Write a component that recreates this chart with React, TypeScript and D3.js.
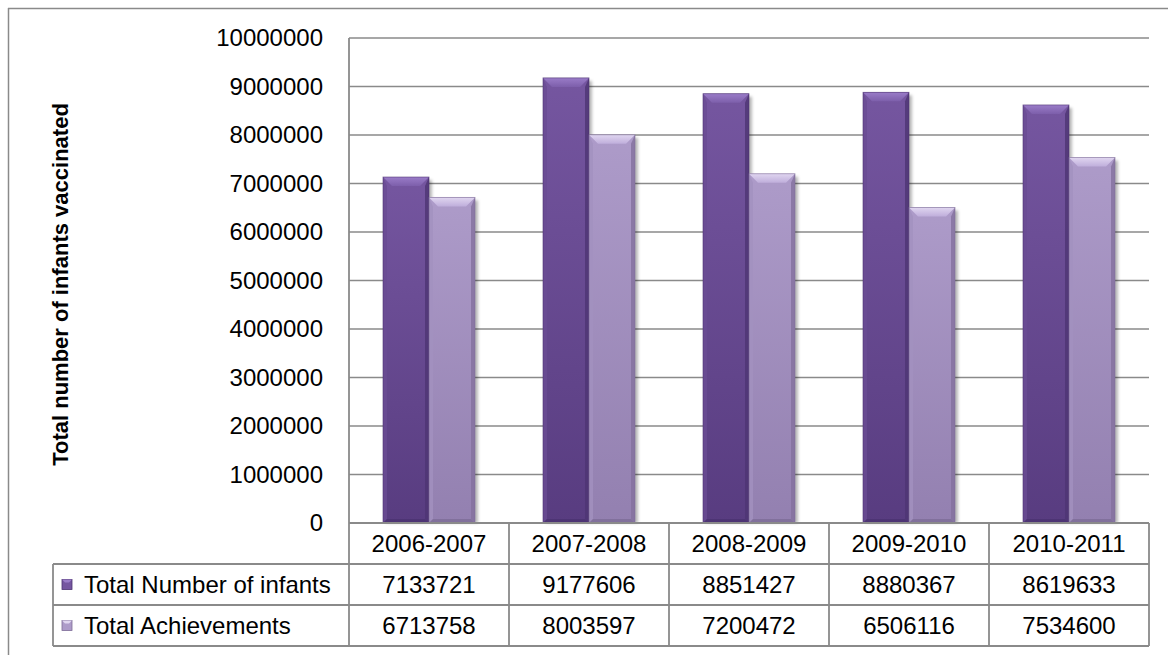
import React from "react";
import * as d3 from "d3";

// Fiscal years shown along the category axis / table header
const categories = ["2006-2007", "2007-2008", "2008-2009", "2009-2010", "2010-2011"];
const seriesNames = ["Total Number of infants", "Total Achievements"];
const infants = [7133721, 9177606, 8851427, 8880367, 8619633];
const achievements = [6713758, 8003597, 7200472, 6506116, 7534600];
const yTicks = [0, 1000000, 2000000, 3000000, 4000000, 5000000, 6000000, 7000000, 8000000, 9000000, 10000000];
const axisTitle = "Total number of infants vaccinated";

const W = 1168;
const H = 655;
const plotLeft = 349;
const plotRight = 1149;
const plotTop = 38;
const plotBottom = 523;
const rowEdges = [523, 564, 605, 646];
const legendLeft = 53;
const gridColor = "#8a8a8a";
const font = "'Liberation Sans', Arial, sans-serif";

const palettes = [
  { top: "#7556a0", bottom: "#583c80", bevelTop: "#9a7cc8", bevelBottom: "#7d5fab", edgeL: "#6a4c93", edgeR: "#4e3573", base: "#4b3270" },
  { top: "#ad9bc9", bottom: "#9380b0", bevelTop: "#e0d6f0", bevelBottom: "#bfaedb", edgeL: "#a391bf", edgeR: "#83719e", base: "#7d6c97" },
];

export default function App() {
  const values = [infants, achievements];
  const x = d3.scaleBand<string>().domain(categories).range([plotLeft, plotRight]).paddingInner(0).paddingOuter(0);
  const xInner = d3.scaleBand<string>().domain(seriesNames).range([0, x.bandwidth()]).paddingInner(0).paddingOuter(0.739);
  const y = d3.scaleLinear().domain([0, 10000000]).range([plotBottom, plotTop]);
  const bw = xInner.bandwidth();
  const bevel = 9;
  const side = 4;

  const bars: React.ReactNode[] = [];
  categories.forEach((cat, ci) => {
    seriesNames.forEach((s, si) => {
      const v = values[si][ci];
      const x0 = (x(cat) ?? 0) + (xInner(s) ?? 0);
      const y0 = y(v);
      const y1 = y(0);
      const h = y1 - y0;
      const p = palettes[si];
      bars.push(
        <g key={`${ci}-${si}`}>
          <rect x={x0 + 3} y={y0 + 3} width={bw} height={h - 3} fill="rgba(0,0,0,0.28)" filter="url(#shadowBlur)" />
          <rect x={x0} y={y0} width={bw} height={h} fill={`url(#body${si})`} />
          <polygon points={`${x0},${y0} ${x0 + side},${y0 + bevel} ${x0 + side},${y1 - 4} ${x0},${y1}`} fill={p.edgeL} opacity={0.8} />
          <polygon points={`${x0 + bw},${y0} ${x0 + bw - side},${y0 + bevel} ${x0 + bw - side},${y1 - 4} ${x0 + bw},${y1}`} fill={p.edgeR} opacity={0.8} />
          <polygon points={`${x0},${y1} ${x0 + bw},${y1} ${x0 + bw - side},${y1 - 4} ${x0 + side},${y1 - 4}`} fill={p.base} opacity={0.8} />
          <polygon points={`${x0},${y0} ${x0 + bw},${y0} ${x0 + bw - bevel},${y0 + bevel} ${x0 + bevel},${y0 + bevel}`} fill={`url(#bevel${si})`} />
          <rect x={x0} y={y0} width={bw} height={h} fill="none" stroke={p.base} strokeWidth={0.8} opacity={0.7} />
        </g>
      );
    });
  });

  const colEdges = [...categories.map((c) => x(c) ?? 0), plotRight];

  return (
    <svg width={W} height={H} style={{ position: "absolute", left: 0, top: 0, background: "#fff" }} fontFamily={font}>
      <defs>
        {palettes.map((p, i) => (
          <linearGradient key={`b${i}`} id={`body${i}`} x1="0" y1="0" x2="0" y2="1">
            <stop offset="0" stopColor={p.top} />
            <stop offset="1" stopColor={p.bottom} />
          </linearGradient>
        ))}
        {palettes.map((p, i) => (
          <linearGradient key={`v${i}`} id={`bevel${i}`} x1="0" y1="0" x2="0" y2="1">
            <stop offset="0" stopColor={p.bevelTop} />
            <stop offset="1" stopColor={p.bevelBottom} />
          </linearGradient>
        ))}
        <filter id="shadowBlur" x="-20%" y="-5%" width="140%" height="110%">
          <feGaussianBlur stdDeviation="1.5" />
        </filter>
      </defs>

      {/* chart frame */}
      <line x1={8} y1={8.5} x2={W} y2={8.5} stroke={gridColor} strokeWidth={1.5} />
      <line x1={8.5} y1={8} x2={8.5} y2={H} stroke={gridColor} strokeWidth={1.5} />

      {/* gridlines */}
      {yTicks.map((t) => (
        <line key={t} x1={plotLeft} x2={plotRight} y1={y(t)} y2={y(t)} stroke={gridColor} strokeWidth={1.6} />
      ))}

      {/* tick labels */}
      {yTicks.map((t) => (
        <text key={`l${t}`} x={323} y={y(t)} dy="0.35em" textAnchor="end" fontSize={24} fill="#000">
          {t}
        </text>
      ))}

      {/* axis title */}
      <text transform={`translate(68, ${(plotTop + plotBottom) / 2 + 4}) rotate(-90)`} textAnchor="middle" fontSize={22} fontWeight="bold" fill="#000">
        {axisTitle}
      </text>

      {bars}

      {/* value axis line */}
      <line x1={plotLeft} x2={plotLeft} y1={plotTop} y2={rowEdges[3]} stroke={gridColor} strokeWidth={1.8} />

      {/* data table */}
      <line x1={plotLeft} x2={plotRight} y1={rowEdges[0]} y2={rowEdges[0]} stroke={gridColor} strokeWidth={1.8} />
      {[1, 2, 3].map((r) => (
        <line key={`r${r}`} x1={legendLeft} x2={plotRight} y1={rowEdges[r]} y2={rowEdges[r]} stroke={gridColor} strokeWidth={1.8} />
      ))}
      <line x1={legendLeft} x2={legendLeft} y1={rowEdges[1]} y2={rowEdges[3]} stroke={gridColor} strokeWidth={1.8} />
      {colEdges.slice(1).map((cx, i) => (
        <line key={`c${i}`} x1={cx} x2={cx} y1={rowEdges[0]} y2={rowEdges[3]} stroke={gridColor} strokeWidth={1.8} />
      ))}

      {categories.map((c) => (
        <text key={`h${c}`} x={(x(c) ?? 0) + x.bandwidth() / 2} y={(rowEdges[0] + rowEdges[1]) / 2} dy="0.35em" textAnchor="middle" fontSize={24} fill="#000">
          {c}
        </text>
      ))}
      {seriesNames.map((s, si) => {
        const cy = (rowEdges[si + 1] + rowEdges[si + 2]) / 2;
        const p = palettes[si];
        return (
          <g key={`row${si}`}>
            <rect x={62} y={cy - 5} width={10} height={10} fill={p.top} stroke={p.base} strokeWidth={0.8} />
            <polygon points={`${62},${cy - 5} ${72},${cy - 5} ${69},${cy - 2} ${65},${cy - 2}`} fill={p.bevelTop} />
            <text x={84} y={cy} dy="0.35em" fontSize={24} fill="#000">
              {s}
            </text>
            {categories.map((c, ci) => (
              <text key={`v${c}`} x={(x(c) ?? 0) + x.bandwidth() / 2} y={cy} dy="0.35em" textAnchor="middle" fontSize={24} fill="#000">
                {values[si][ci]}
              </text>
            ))}
          </g>
        );
      })}
    </svg>
  );
}
